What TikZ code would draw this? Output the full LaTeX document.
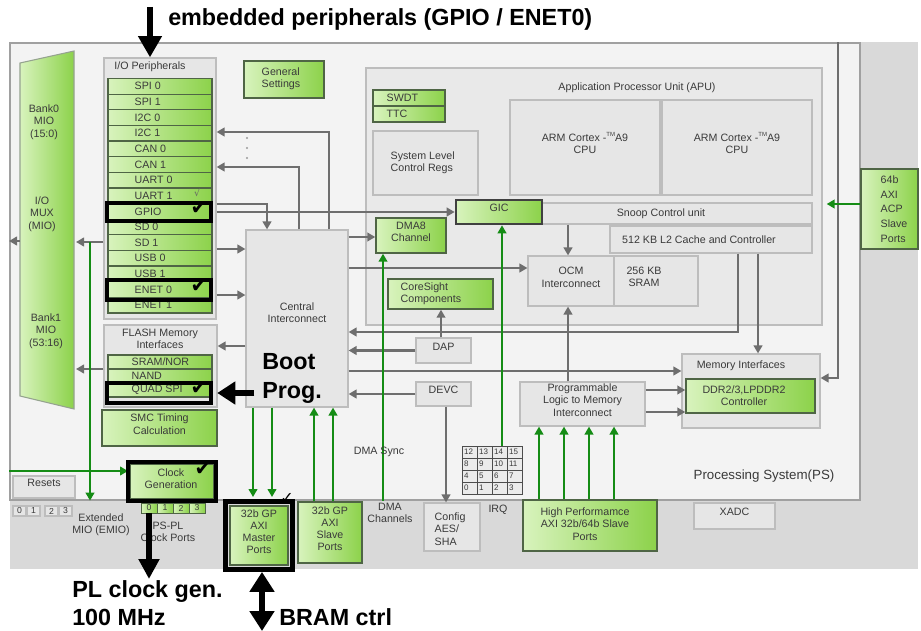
\documentclass[tikz,border=0pt]{standalone}
\usepackage{fontspec}
\setmainfont{Liberation Sans}
\newfontfamily\symfont{DejaVu Sans}
\usetikzlibrary{arrows.meta,fit,calc}

\definecolor{bandgray}{HTML}{D9D9D9}
\definecolor{psfill}{HTML}{F3F3F3}
\definecolor{psline}{HTML}{A0A0A0}
\definecolor{apufill}{HTML}{E9E9E9}
\definecolor{boxfill}{HTML}{E6E6E6}
\definecolor{boxline}{HTML}{BDBDBD}
\definecolor{glight}{HTML}{D8F3BD}
\definecolor{gdark}{HTML}{8CD24A}
\definecolor{gline}{HTML}{4F6545}
\definecolor{wire}{HTML}{6E6E6E}
\definecolor{gwire}{HTML}{158C15}
\definecolor{txt}{HTML}{3A3A3A}

\tikzset{
  every node/.style={text=txt, font=\fontsize{8}{9.2}\selectfont},
  psbox/.style={draw=psline, fill=psfill, line width=0.9pt, inner sep=0pt},
  graybox/.style={draw=boxline, fill=boxfill, line width=0.9pt, inner sep=0pt, align=center},
  greenbox/.style={draw=gline, line width=1.1pt, left color=glight, right color=gdark, inner sep=0pt, align=center},
  greenrow/.style={draw=gline, line width=0.9pt, left color=glight, right color=gdark, inner sep=0pt},
  blackframe/.style={draw=black, line width=3.4pt, inner sep=0pt},
  wirearr/.style={draw=wire, line width=2pt, -{Triangle[length=6pt,width=6.5pt]}},
  greenarr/.style={draw=gwire, line width=2pt, -{Triangle[length=6pt,width=6.5pt]}},
  bigarr/.style={draw=black, line width=4.5pt, -{Triangle[length=16pt,width=17pt]}},
  dblarr/.style={draw=black, line width=4.5pt, {Triangle[length=15pt,width=18pt]}-{Triangle[length=15pt,width=18pt]}},
  biglabel/.style={text=black, font=\fontsize{17.5}{21.5}\selectfont\bfseries, inner sep=0pt},
  tick/.style={text=black, font=\symfont\fontsize{15}{15}\selectfont, inner sep=0pt},
}
\newcommand{\armcore}{ARM Cortex -{\raisebox{0.9ex}{\fontsize{4.5}{4.5}\selectfont TM}}A9\\CPU}

\begin{document}
\begin{tikzpicture}[x=0.75pt,y=-0.75pt]
\useasboundingbox (0,0) rectangle (921,631);
\fill[white] (0,0) rectangle (921,631);
\fill[bandgray] (10,42) rectangle (918,569);

% Processing system frame
\node[psbox, fit={(10,43)(860,500)}] (ps) {};
\node[font=\fontsize{10}{12}\selectfont] at (764,476) {Processing System(PS)};

% Application processor region
\node[draw=boxline, fill=apufill, line width=1pt, inner sep=0pt, fit={(366,68)(822,325)}] (apu) {};
\node at (637,88) {Application Processor Unit (APU)};
\node[graybox, fit={(510,100)(660,195)}] (cpua) {\armcore};
\node[graybox, fit={(662,100)(812,195)}] (cpub) {\armcore};
\node[greenbox, fit={(373,90)(445,106)}] (swdt) {};
\node[anchor=west] at (382,98) {SWDT};
\node[greenbox, fit={(373,106)(445,122)}] (ttc) {};
\node[anchor=west] at (382,114) {TTC};
\node[graybox, fit={(373,131)(478,195)}] (sysctl) {};
\node[anchor=west, align=left] at (386,163) {System Level\\Control Regs};
\node[graybox, fit={(542,203)(812,224)}] (snoop) {};
\node at (661,214) {Snoop Control unit};
\node[greenbox, draw=black!75, line width=2pt, fit={(456,200)(542,224)}] (gic) {GIC};
\node[graybox, fit={(610,226)(812,253)}] (l2) {};
\node at (699,240) {512 KB L2 Cache and Controller};
\node[graybox, fit={(528,256)(614,306)}] (ocm) {OCM\\Interconnect};
\node[graybox, fit={(614,256)(698,306)}] (sram) {};
\node[align=center] at (644,277) {256 KB\\SRAM};
\node[greenbox, fit={(376,218)(446,253)}] (dma) {DMA8\\Channel};
\node[greenbox, fit={(388,279)(493,309)}] (cs) {};
\node[anchor=west, align=left] at (396,294) {CoreSight\\Components};

% Blocks outside the APU
\node[graybox, fit={(416,338)(471,363)}] (dap) {DAP};
\node[graybox, fit={(416,382)(471,406)}] (devc) {DEVC};
\node[graybox, fit={(424,503)(480,551)}] (config) {};
\node[anchor=west, align=left] at (430,529) {Config\\AES/\\SHA};
\node[graybox, fit={(246,230)(348,407)}] (ci) {};
\node[align=center] at (297,313) {Central\\Interconnect};
\node[greenbox, fit={(244,61)(324,98)}] (gen) {};
\node[anchor=west, align=left] at (257,79) {General\\Settings};
\node[graybox, fit={(520,382)(645,426)}] (plmi) {Programmable\\Logic to Memory\\Interconnect};
\node[graybox, fit={(682,354)(820,428)}] (memif) {};
\node at (741,366) {Memory Interfaces};
\node[greenbox, fit={(686,379)(815,413)}] (ddr) {};
\node[align=center] at (744,396) {DDR2/3,LPDDR2\\Controller};
\node[greenbox, fit={(861,169)(918,249)}] (acp) {};
\node[anchor=west, align=left, font=\fontsize{8}{11.1}\selectfont] at (876,209) {64b\\AXI\\ACP\\Slave\\Ports};
\node[graybox, fit={(694,503)(775,529)}] (xadc) {XADC};
\node[greenbox, fit={(523,500)(657,551)}] (hp) {};
\node[align=center] at (585,524) {High Performamce\\AXI 32b/64b Slave\\Ports};

% Interrupt grid
\node[inner sep=0pt, fit={(462,446)(522,494)}] (irq) {};
\foreach \r in {0,...,3} {
  \foreach \c in {0,...,3} {
    \pgfmathtruncatemacro\num{12-4*\r+\c}
    \node[draw=black!70, fill=white!92!black, line width=0.6pt, inner sep=0pt,
          fit={({462+15*\c},{446+12*\r})({477+15*\c},{458+12*\r})}] (irq\num) {};
    \node[anchor=west, inner sep=1pt, font=\fontsize{6}{6}\selectfont] at ({462.5+15*\c},{452+12*\r}) {\num};
  }
}
\node at (498,510) {IRQ};

% MIO multiplexer
\shade[left color=glight, right color=gdark, draw=gline!60, line width=0.8pt]
  (20,63) -- (74,51) -- (74,409) -- (20,396) -- cycle;
\coordinate (muxE) at (76,240);
\coordinate (muxW) at (20,240);
\node[align=center] at (44,122) {Bank0\\MIO\\(15:0)};
\node[align=center] at (42,214) {I/O\\MUX\\(MIO)};
\node[align=center] at (46,331) {Bank1\\MIO\\(53:16)};

% I/O peripherals
\node[graybox, fit={(104,58)(216,319)}] (iop) {};
\node at (150,67) {I/O Peripherals};
\foreach \lab [count=\i from 0] in {SPI 0,SPI 1,I2C 0,I2C 1,CAN 0,CAN 1,UART 0,UART 1,GPIO,SD 0,SD 1,USB 0,USB 1,ENET 0,ENET 1} {
  \pgfmathsetmacro\yt{78.5+15.63*\i}
  \pgfmathsetmacro\yb{\yt+15.63}
  \node[greenrow, fit={(108,\yt)(212,\yb)}] (io\i) {};
  \node[anchor=west] at (130,{(\yt+\yb)/2}) {\lab};
}

% Flash memory interfaces
\node[graybox, fit={(104,325)(217,407)}] (flash) {};
\node[align=center] at (160,339) {FLASH Memory\\Interfaces};
\node[greenrow, fit={(108,355)(212,369)}] (sram) {};
\node[anchor=west] at (127,362) {SRAM/NOR};
\node[greenrow, fit={(108,369)(212,383)}] (nand) {};
\node[anchor=west] at (127,376) {NAND};
\node[greenrow, fit={(108,383)(212,397)}] (qspi) {};
\node[anchor=west] at (127,390) {QUAD SPI};
\node[greenbox, fit={(102,410)(217,446)}] (smc) {SMC Timing\\Calculation};

% Lower left blocks
\node[graybox, fit={(13,476)(75,498)}] (resets) {Resets};
\foreach \n/\xa in {0/13,1/27,2/45,3/59} {
  \node[graybox, fit={(\xa,506)({\xa+13},516)}] (emio\n) {};
  \node[inner sep=0pt, font=\fontsize{6.5}{6.5}\selectfont] at ({\xa+6.5},511) {\n};
}
\node[align=center] at (101,525) {Extended\\MIO (EMIO)};
\node[greenbox, fit={(130,464)(214,499)}] (clk) {};
\node[align=center] at (171,479) {Clock\\Generation};
\foreach \n in {0,...,3} {
  \node[greenbox, line width=0.7pt, fit={({141+16*\n},503)({157+16*\n},513)}] (clkp\n) {};
  \node[inner sep=0pt, font=\fontsize{6.5}{6.5}\selectfont] at ({149+16*\n},508) {\n};
}
\node[align=center] at (168,532) {PS-PL\\Clock Ports};
\node[greenbox, fit={(230,506)(288,565)}] (master) {32b GP\\AXI\\Master\\Ports};
\node[greenbox, fit={(298,502)(362,563)}] (slave) {32b GP\\AXI\\Slave\\Ports};
\node[align=center] at (390,513) {DMA\\Channels};

% Gray connectors
\draw[wirearr] (ci.north -| 329,0) -- (329,132) -- (iop.east |- 0,132);
\draw[wirearr] (ci.north -| 299,0) -- (299,167) -- (iop.east |- 0,167);
\foreach \yd in {138,148,158} \fill[wire!70] (247,\yd) circle (1.2);
\draw[wirearr] (iop.east |- 0,204) -- (267,204) -- (ci.north -| 267,0);
\draw[wirearr] (iop.east |- 0,212) -- (gic.west |- 0,212);
\draw[wirearr] (iop.east |- 0,249) -- (ci.west |- 0,249);
\draw[wirearr] (iop.east |- 0,295) -- (ci.west |- 0,295);
\draw[wirearr] (ci.west |- 0,346) -- (flash.east |- 0,346);
\draw[wirearr] (iop.west |- 0,242) -- (muxE |- 0,242);
\draw[wirearr] (flash.west |- 0,369) -- (muxE |- 0,369);
\draw[wirearr] (muxW |- 0,241) -- (9,241);
\draw[wirearr] (ci.east |- 0,237) -- (dma.west |- 0,237);
\draw[wirearr] (ci.east |- 0,268) -- (ocm.west |- 0,268);
\draw[wirearr] (l2.south -| 738,0) -- (738,332) -- (ci.east |- 0,332);
\draw[wirearr] (dap.west) -- (ci.east |- dap.west);
\draw[wirearr] (dap.north -| 441,0) -- (cs.south -| 441,0);
\draw[wirearr] (ci.east |- 0,371) -- (memif.west |- 0,371);
\draw[wirearr] (devc.west) -- (ci.east |- devc.west);
\draw[wirearr] (devc.south -| 446,0) -- (config.north -| 446,0);
\draw[wirearr] (snoop.south -| 568,0) -- (ocm.north -| 568,0);
\draw[wirearr] (plmi.north -| 568,0) -- (ocm.south -| 568,0);
\draw[wirearr] (l2.south -| 758,0) -- (memif.north -| 758,0);
\draw[wirearr] (ps.north -| 838,0) -- (838,378) -- (memif.east |- 0,378);
\draw[wirearr] (plmi.east |- 0,390) -- (ddr.west |- 0,390);
\draw[wirearr] (plmi.east |- 0,412) -- (ddr.west |- 0,412);

% Green connectors
\coordinate (emiotap) at (90,242);
\draw[greenarr] (ps.west |- 0,471) -- (128,471);
\draw[greenarr] (emiotap) -- (ps.south -| emiotap);
\draw[greenarr] (ci.south -| 253,0) -- (253,497);
\draw[greenarr] (ci.south -| 272,0) -- (272,497);
\draw[greenarr] (slave.north -| 314,0) -- (ci.south -| 314,0);
\draw[greenarr] (slave.north -| 333,0) -- (ci.south -| 333,0);
\draw[greenarr] (ps.south -| 383,0) -- (dma.south -| 383,0);
\draw[greenarr] (irq.north -| 502,0) -- (gic.south -| 502,0);
\foreach \xg in {539,564,589,614}
  \draw[greenarr] (hp.north -| \xg,0) -- (plmi.south -| \xg,0);
\draw[greenarr] (acp.west |- 0,204) -- ($(apu.east |- 0,204)+(4,0)$);
\node at (379,452) {DMA Sync};

% Highlight frames
\node[blackframe, fit={(107,203)(211,221)}] (gpiof) {};
\node[blackframe, fit={(107,280)(211,300)}] (enetf) {};
\node[blackframe, fit={(107,383)(211,403)}] (qspif) {};
\node[blackframe, fit={(128,462)(216,501)}] (clkf) {};
\node[blackframe, line width=3.6pt, fit={(225.5,501.5)(292.5,569.5)}] (masterf) {};

% Check marks
\node[tick] at (199,208) {✔};
\node[tick] at (199,286) {✔};
\node[tick] at (199,388) {✔};
\node[tick] at (203,469) {✔};
\node[tick, font=\symfont\fontsize{12}{12}\selectfont] at (287,498) {✓};
\node[text=black!60, inner sep=0pt, font=\symfont\fontsize{7}{7}\selectfont] at (197,193) {√};

% Annotation arrows and labels
\coordinate (toparr) at (150,7);
\draw[bigarr] (toparr) -- (iop.north -| toparr);
\node[biglabel, anchor=base west] at (168,26) {embedded peripherals (GPIO / ENET0)};
\coordinate (clkarr) at (149,579);
\draw[bigarr, -{Triangle[length=15pt,width=15pt]}] (clkp0.south) -- (clkarr);
\node[biglabel, anchor=base west] at (72,597) {PL clock gen.};
\node[biglabel, anchor=base west] at (72,625) {100 MHz};
\draw[bigarr, line width=5pt, -{Triangle[length=13.5pt,width=16.5pt]}] ($(ci.west |- 0,393)+(9,0)$) -- ($(qspif.east |- 0,393)+(4,0)$);
\node[biglabel, anchor=base west] at (262,369) {Boot};
\node[biglabel, anchor=base west] at (262,398) {Prog.};
\coordinate (bramarr) at (262,631);
\draw[dblarr] (masterf.south -| bramarr) -- (bramarr);
\node[biglabel, anchor=base west] at (279,625) {BRAM ctrl};
\end{tikzpicture}
\end{document}
